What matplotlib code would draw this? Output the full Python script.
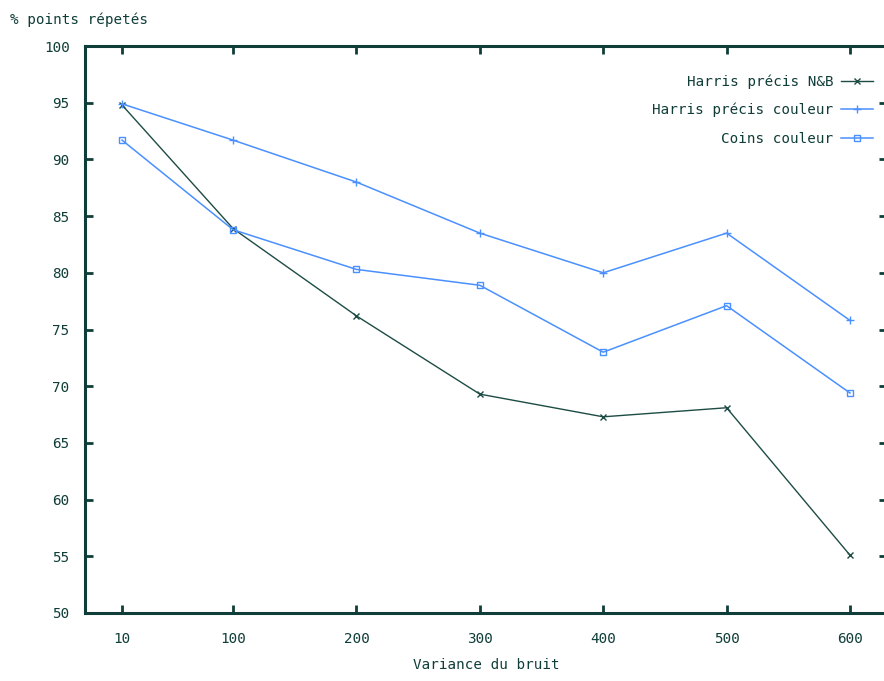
import matplotlib
matplotlib.use('Agg')
import matplotlib.pyplot as plt

# donnees
variance = [10, 100, 200, 300, 400, 500, 600]
harris_nb = [94.8, 83.9, 76.2, 69.3, 67.3, 68.1, 55.1]
harris_couleur = [94.9, 91.7, 88.0, 83.5, 80.0, 83.5, 75.8]
coins_couleur = [91.7, 83.8, 80.3, 78.9, 73.0, 77.1, 69.4]

xticks = [10, 100, 200, 300, 400, 500, 600]
yticks = [50, 55, 60, 65, 70, 75, 80, 85, 90, 95, 100]

txt = '#0f3d38'
noir = '#1d4c45'
bleu = '#4a90ff'

plt.rcParams['font.family'] = ['DejaVu Sans Mono']
plt.rcParams['font.size'] = 10.3

fig = plt.figure(figsize=(8.84, 6.81), dpi=100)
ax = fig.add_axes([85 / 884, 1 - 613 / 681, (887 - 85) / 884, (613 - 46) / 681])

ax.plot(variance, harris_nb, color=noir, lw=1.0, marker='x', ms=5, mew=1.0,
        label='Harris précis N&B')
ax.plot(variance, harris_couleur, color=bleu, lw=1.1, marker='+', ms=6, mew=1.0,
        label='Harris précis couleur')
ax.plot(variance, coins_couleur, color=bleu, lw=1.1, marker='s', ms=4.5, mew=1.0,
        mfc='none', label='Coins couleur')

ax.set_xlim(-20, 630)
ax.set_ylim(50, 100)
ax.set_xticks(xticks)
ax.set_yticks(yticks)
ax.tick_params(direction='in', length=6, width=2, color=txt, labelcolor=txt,
               top=True, right=True, pad=14)
ax.tick_params(axis='y', pad=11)
for sp in ax.spines.values():
    sp.set_color(txt)
    sp.set_linewidth(2.2)

ax.set_xlabel('Variance du bruit', color=txt, labelpad=8)
fig.text(10 / 884, 1 - 20 / 681, '% points répetés', color=txt, va='center', ha='left')

leg = ax.legend(loc='upper right', bbox_to_anchor=(880 / 884, 1 - 67 / 681),
                bbox_transform=fig.transFigure, frameon=False, markerfirst=False,
                handlelength=2.2, labelspacing=1.0, borderpad=0, handletextpad=0.55)
for t in leg.get_texts():
    t.set_color(txt)

fig.savefig('out.png', dpi=100)
